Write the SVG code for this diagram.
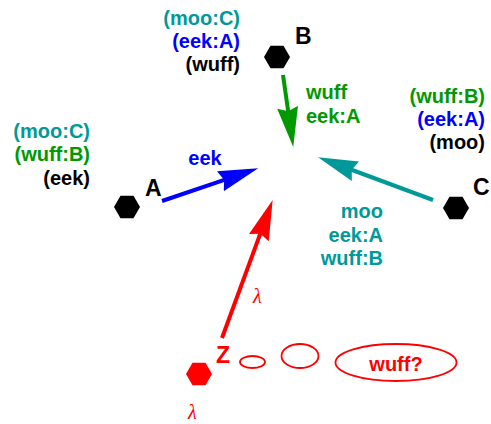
<svg xmlns="http://www.w3.org/2000/svg" width="491" height="424" viewBox="0 0 491 424">
<style>
text{font-family:"Liberation Sans",Arial,sans-serif;font-weight:bold;font-size:20px}
.nl{font-size:23px}
.r{text-anchor:end}
.m{text-anchor:middle}
.k{fill:#000}
.t{fill:#009999}
.g{fill:#009900}
.b{fill:#0000ff}
.rd{fill:#ff0000}
.lam{font-family:"Liberation Serif","Times New Roman",serif;font-style:italic;font-weight:normal;font-size:20px;fill:#ff0000}
.arr{stroke-width:4;fill:none}
.ell{fill:none;stroke:#ff0000;stroke-width:1.8}
</style>
<defs>
<polygon id="hx" points="13,0 6.5,11.3 -6.5,11.3 -13,0 -6.5,-11.3 6.5,-11.3"/>
<marker id="mb" markerUnits="userSpaceOnUse" markerWidth="42" markerHeight="24" viewBox="0 -12 42 24" refX="5" refY="0" orient="auto"><path d="M0,-10.5 L40,0 L0,10.5 L4,0 Z" fill="#0000ff"/></marker>
<marker id="mg" markerUnits="userSpaceOnUse" markerWidth="42" markerHeight="24" viewBox="0 -12 42 24" refX="5" refY="0" orient="auto"><path d="M0,-10.5 L40,0 L0,10.5 L4,0 Z" fill="#009900"/></marker>
<marker id="mt" markerUnits="userSpaceOnUse" markerWidth="42" markerHeight="24" viewBox="0 -12 42 24" refX="5" refY="0" orient="auto"><path d="M0,-10.5 L40,0 L0,10.5 L4,0 Z" fill="#009999"/></marker>
<marker id="mr" markerUnits="userSpaceOnUse" markerWidth="42" markerHeight="24" viewBox="0 -12 42 24" refX="5" refY="0" orient="auto"><path d="M0,-10.5 L40,0 L0,10.5 L4,0 Z" fill="#ff0000"/></marker>
</defs>
<g id="connectors">
<line class="arr" x1="162" y1="201" x2="225.1" y2="179.6" stroke="#0000ff" marker-end="url(#mb)"/>
<line class="arr" x1="283" y1="75" x2="288.3" y2="112.3" stroke="#009900" marker-end="url(#mg)"/>
<line class="arr" x1="433" y1="200" x2="350.8" y2="169.5" stroke="#009999" marker-end="url(#mt)"/>
<line class="arr" x1="222" y1="338" x2="260.6" y2="232.9" stroke="#ff0000" marker-end="url(#mr)"/>
<text class="b m" x="205" y="165">eek</text>
<text class="g" x="306" y="99">wuff</text>
<text class="g" x="306" y="123">eek:A</text>
<text class="t r" x="383" y="218">moo</text>
<text class="t r" x="383" y="242">eek:A</text>
<text class="t r" x="383" y="265">wuff:B</text>
<text class="lam" x="253" y="303">λ</text>
</g>
<g id="node-B">
<use href="#hx" x="277" y="57" fill="#000"/>
<text class="nl k" x="295" y="44">B</text>
<text class="t r" x="240" y="25">(moo:C)</text>
<text class="b r" x="240" y="48">(eek:A)</text>
<text class="k r" x="240" y="71">(wuff)</text>
</g>
<g id="node-A">
<use href="#hx" x="127" y="207" fill="#000"/>
<text class="nl k" x="145" y="196">A</text>
<text class="t r" x="90" y="138">(moo:C)</text>
<text class="g r" x="90" y="161">(wuff:B)</text>
<text class="k r" x="90" y="185">(eek)</text>
</g>
<g id="node-C">
<use href="#hx" x="456" y="208" fill="#000"/>
<text class="nl k" x="473" y="195">C</text>
<text class="g r" x="485" y="103">(wuff:B)</text>
<text class="b r" x="485" y="126">(eek:A)</text>
<text class="k r" x="485" y="149">(moo)</text>
</g>
<g id="node-Z">
<use href="#hx" x="199" y="374" fill="#ff0000"/>
<text class="nl rd" x="216" y="363">Z</text>
<text class="lam" x="188" y="419">λ</text>
</g>
<g id="thought">
<ellipse class="ell" cx="252.5" cy="362" rx="12.5" ry="6"/>
<ellipse class="ell" cx="300" cy="356" rx="18.5" ry="12"/>
<ellipse class="ell" cx="396" cy="362.5" rx="60.5" ry="18.5"/>
<text class="rd m" x="396" y="371">wuff?</text>
</g>
</svg>
